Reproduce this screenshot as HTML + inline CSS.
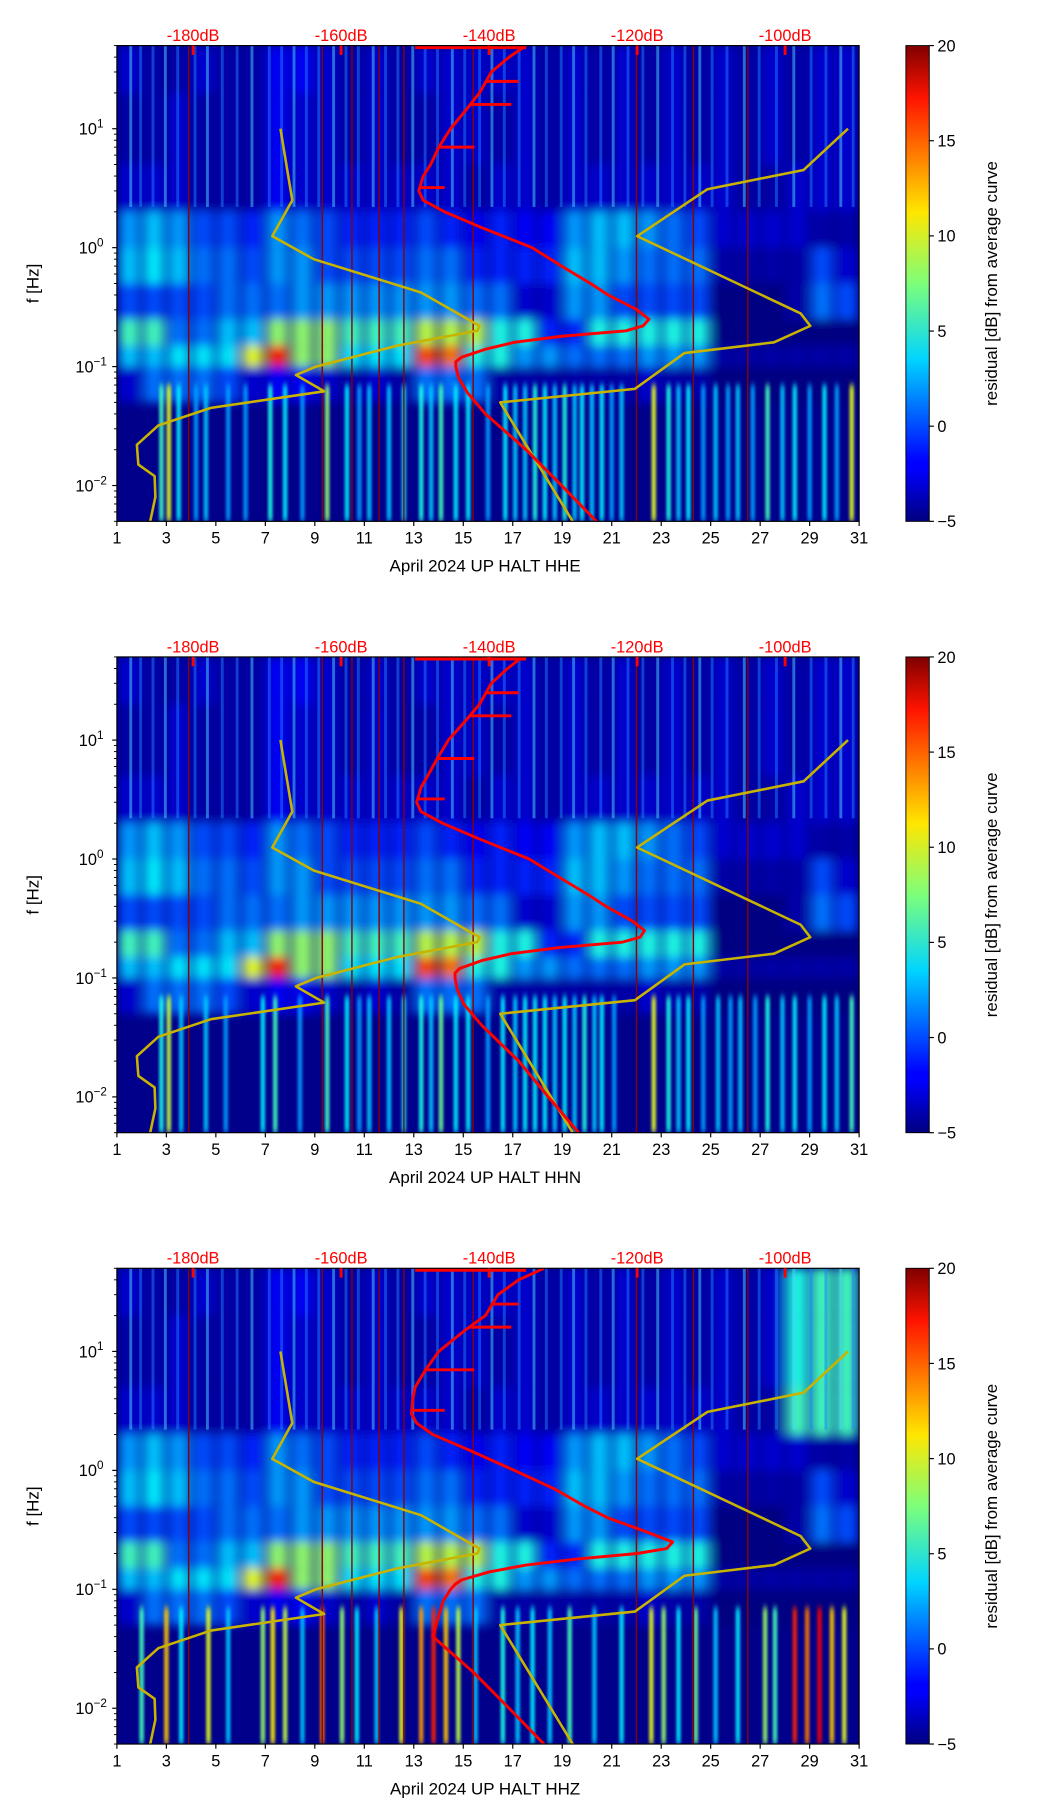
<!DOCTYPE html>
<html><head><meta charset="utf-8">
<style>
html,body{margin:0;padding:0;background:#fff;}
svg{display:block;font-family:"Liberation Sans","DejaVu Sans",sans-serif;}
</style></head>
<body>
<svg id="fig" width="1052" height="1806" viewBox="0 0 900 1545" preserveAspectRatio="none" xmlns="http://www.w3.org/2000/svg">
<defs>
<linearGradient id="jetg" x1="0" y1="1" x2="0" y2="0">
<stop offset="0" stop-color="#00007f"/><stop offset="0.11" stop-color="#0000ff"/>
<stop offset="0.125" stop-color="#0000ff"/><stop offset="0.34" stop-color="#00d4ff"/>
<stop offset="0.5" stop-color="#7dff7a"/><stop offset="0.65" stop-color="#ffe600"/>
<stop offset="0.89" stop-color="#ff1300"/><stop offset="1" stop-color="#7f0000"/>
</linearGradient>
<filter id="blur" x="-5%" y="-5%" width="110%" height="110%"><feGaussianBlur stdDeviation="5 4"/></filter>
<filter id="blur2" x="-5%" y="-5%" width="110%" height="110%"><feGaussianBlur stdDeviation="1.2 3"/></filter>
</defs>
</svg>
<script>
// ---------- data ----------
const panelNames = ["HHE","HHN","HHZ"];
const dayTicks = [1,3,5,7,9,11,13,15,17,19,21,23,25,27,29,31];
const dbTicks = [-180,-160,-140,-120,-100];
const cbTicks = [-5,0,5,10,15,20];
const bandEdges = [50,20,5,2,1,0.5,0.25,0.15,0.1,0.05,0.005];
// residual [dB] per day (1..30) for each band, top band first
const bandA = [-3,-4,-4,-3,-4,-4,-2,-2,-3,-4,-3,-4,-3,-3,-3,-3,-3,-4,-3,-4,-3,-4,-3,-4,-3,-4,-3,-4,-3,-3];
const bandB = [-4,-4,-3,-4,-4,-4,-2,-3,-3,-4,-3,-4,-4,-3,-3,-4,-3,-4,-3,-4,-3,-4,-3,-4,-3,-4,-3,-4,-3,-3];
const bandC = [-3,-3,-3,-4,-4,-4,-2,-3,-3,-3,-3,-3,-3,-3,-4,-3,-3,-4,-3,-3,-3,-3,-3,-3,-3,-4,-4,-3,-3,-3];
const bandD = [2,3,2,0,0,-1,2,1,0,-1,-1,-1,0,-1,-2,-1,-2,-2,2,3,3,2,1,0,-3,-3,-3,-3,-4,-4];
const bandE = [3,4,3,1,1,0,2,2,0,0,0,0,1,1,-1,-1,-1,-1,3,3,2,1,1,1,-4,-4,-4,-4,0,-3];
const bandF = [0,0,0,0,1,1,1,2,2,2,2,2,2,2,1,1,-3,-3,2,2,0,0,0,0,-5,-5,-5,-4,1,0];
const bandG = [6,6,1,1,3,3,8,8,8,6,6,6,9,9,9,5,5,-1,-1,5,5,5,5,5,-5,-5,-5,-5,-5,-5];
const bandH = [3,3,4,4,4,10,16,8,8,4,4,4,15,14,5,5,2,2,1,1,1,2,2,2,-4,-4,-4,-4,-4,-4];
const bandI = [-3,1,1,1,0,-3,-2,-2,-3,-4,-3,-4,1,1,1,-4,-4,-4,-4,-4,-4,-3,-4,-4,-5,-5,-5,-5,-5,-5];
const bands = [bandA,bandB,bandC,bandD,bandE,bandF,bandG,bandH,bandI];
// vertical streaks at low frequencies (day, residual) per panel
const lowStreaks1 = [[2.8,8],[3.1,12],[3.5,6],[4.2,4],[4.6,5],[5.5,4],[6.2,4],[7.2,7],[7.8,6],[8.5,4],[9.5,10],[10.3,6],[10.8,4],[11.2,5],[12.0,5],[12.6,6],[13.3,7],[13.7,5],[14.1,8],[14.7,6],[15.2,6],[16.0,4],[16.7,6],[17.1,5],[17.5,5],[17.9,7],[18.3,6],[18.7,5],[19.1,7],[19.5,5],[19.8,6],[20.2,5],[20.6,6],[21.0,4],[21.4,5],[22.7,12],[23.3,7],[23.7,5],[24.1,6],[24.7,4],[25.2,5],[25.7,4],[26.1,5],[26.7,4],[27.3,8],[27.9,5],[28.4,6],[29.0,4],[29.6,6],[30.1,4],[30.7,12]];
const lowStreaks2 = [[2.8,7],[3.1,11],[3.6,5],[4.6,5],[5.4,4],[6.9,6],[7.4,8],[8.4,4],[9.5,8],[10.3,6],[10.8,4],[11.2,5],[12.0,5],[12.6,6],[13.3,7],[13.7,5],[14.1,9],[14.7,6],[15.2,6],[16.0,4],[16.6,6],[17.1,5],[17.5,6],[17.9,6],[18.3,6],[18.7,5],[19.1,6],[19.5,5],[19.9,7],[20.3,5],[20.6,6],[21.1,4],[22.7,12],[23.3,7],[23.7,5],[24.1,6],[24.7,4],[25.3,5],[25.8,4],[26.2,5],[26.8,4],[27.3,7],[27.9,5],[28.4,6],[29.0,4],[29.6,6],[30.1,5],[30.7,8]];
const lowStreaks3 = [[2.0,8],[3.0,14],[3.6,6],[4.7,12],[5.5,5],[6.9,10],[7.3,13],[7.8,11],[8.5,5],[9.3,16],[10.1,10],[10.7,6],[11.5,5],[12.5,12],[13.3,15],[13.8,18],[14.3,14],[14.8,11],[15.5,5],[16.6,7],[17.2,5],[17.8,6],[18.5,5],[19.3,8],[20.3,5],[21.4,6],[22.6,12],[23.1,10],[23.7,6],[24.4,9],[25.2,5],[26.1,6],[27.2,10],[27.6,8],[28.4,18],[28.9,16],[29.4,19],[29.9,14],[30.4,12]];
const lowStreaks = [lowStreaks1,lowStreaks2,lowStreaks3];
// high-freq streaks (day)
const hiStreaks = [1.5,1.9,2.4,2.9,3.4,4.1,4.6,5.2,5.8,6.4,7.1,7.6,8.1,8.6,9.1,9.7,10.2,10.7,11.3,11.8,12.3,12.9,13.4,13.9,14.5,15.0,15.6,16.1,16.6,17.2,17.8,18.3,18.9,19.4,19.9,20.5,21.0,21.6,22.2,22.8,23.4,23.9,24.5,25.0,25.6,26.3,26.9,27.6,28.3,29.0,29.6,30.2,30.7];
// dark red vertical lines (day)
const gapDays = [3.9,9.3,10.5,11.6,12.6,15.4,22.0,24.3,26.5];
// mean PSD curve (red): frequency [Hz] and dB per panel
const redFreq = [50,40,30,20,15,10,7,5,4,3,2.5,2,1.5,1,0.7,0.5,0.4,0.3,0.25,0.22,0.2,0.18,0.16,0.14,0.12,0.11,0.1,0.08,0.06,0.04,0.02,0.01,0.005];
const redDb1 = [-135.0,-137.3,-139.7,-141.3,-142.9,-145.2,-146.8,-147.9,-148.9,-149.5,-148.9,-146.0,-141.3,-134.2,-130.2,-126.3,-123.9,-120.0,-118.4,-119.2,-121.5,-130.2,-136.6,-140.5,-143.7,-144.5,-144.5,-144.1,-142.9,-140.5,-135.0,-130.2,-125.5];
const redDb2 = [-135.5,-137.5,-139.7,-141.3,-143.0,-145.5,-147.0,-148.3,-149.2,-149.8,-149.2,-146.3,-141.6,-134.6,-130.5,-126.6,-124.2,-120.6,-119.0,-119.6,-122.0,-130.5,-137.0,-141.0,-144.0,-144.6,-144.6,-144.3,-143.4,-141.0,-136.0,-132.0,-127.9];
const redDb3 = [-132.6,-136.0,-138.8,-140.5,-143.3,-146.8,-148.6,-150.0,-150.3,-150.5,-149.8,-147.6,-142.9,-136.6,-131.2,-127.1,-124.0,-118.5,-115.2,-116.0,-120.0,-128.0,-135.0,-140.0,-143.7,-144.6,-145.2,-146.2,-146.8,-147.6,-142.1,-137.3,-132.6];
const redDbs = [redDb1,redDb2,redDb3];
// spikes on the red curve above 2 Hz: frequency, dB reached
const spikeFreq = [25,16,7,3.2];
const spikeDb = [-136,-137,-142,-146];
// low / high noise models (yellow)
const nlnmFreq = [10,2.5,1.25,0.8,0.42,0.22,0.2,0.15,0.1,0.085,0.062,0.045,0.032,0.022,0.015,0.012,0.008,0.005];
const nlnmDb = [-168.2,-166.6,-169.3,-163.7,-149.2,-141.3,-141.6,-152.4,-163.4,-166.1,-162.3,-177.6,-184.7,-187.6,-187.4,-185.2,-185.1,-185.8];
const nhnmFreq = [10,4.5,3.1,1.25,0.28,0.22,0.16,0.13,0.065,0.05,0.005];
const nhnmDb = [-91.5,-97.5,-110.5,-120.0,-97.9,-96.6,-101.5,-113.6,-120.3,-138.5,-128.7];

// ---------- layout ----------
const NS="http://www.w3.org/2000/svg";
const svg=document.getElementById('fig');
const X0=100,X1=735,H=407,tops=[39,562,1085];
const FMAX=50,FMIN=0.005,DB0=-190.3,DB1=-90;
const xDay=d=>X0+(d-1)/30*(X1-X0);
const xDb=v=>X0+(v-DB0)/(DB1-DB0)*(X1-X0);
const yF=(f,t)=>t+(Math.log10(FMAX)-Math.log10(f))/(Math.log10(FMAX)-Math.log10(FMIN))*H;
function jet(v){let t=Math.max(0,Math.min(1,(v+5)/25));
 const c=x=>Math.round(255*Math.max(0,Math.min(1,1.5-Math.abs(x))));
 return `rgb(${c(4*t-3)},${c(4*t-2)},${c(4*t-1)})`;}
function el(tag,attrs,parent){const e=document.createElementNS(NS,tag);for(const k in attrs)e.setAttribute(k,attrs[k]);(parent||svg).appendChild(e);return e;}
function txt(s,attrs,parent){const e=el('text',attrs,parent);e.textContent=s;return e;}

tops.forEach((T,p)=>{
 const g=el('g',{});
 
 
 const cid='clip'+p;
 const cp=el('clipPath',{id:cid},g);el('rect',{x:X0,y:T,width:X1-X0,height:H},cp);
 const plot=el('g',{'clip-path':`url(#${cid})`},g);
 
 
 el('rect',{x:X0,y:T,width:X1-X0,height:H,fill:'#00008a'},plot);
 const hm=el('g',{filter:'url(#blur)'},plot);
 
 
 bands.forEach((row,b)=>{
  const ya=yF(bandEdges[b],T),yb=yF(bandEdges[b+1],T);
  row.forEach((v,i)=>{
   let vv=v; if(p===2&&b<3&&i>=27) vv=v+9;
   const r=el('rect',{x:xDay(i+1)+2,y:ya,width:xDay(i+2)-xDay(i+1)-4,height:yb-ya,fill:jet(vv)},hm);
   
   
  });
 });
 hiStreaks.forEach((d,i)=>{
  const s=el('rect',{x:xDay(d),y:T,width:2.5,height:yF(2.2,T)-T,fill:i%3===0?'#4fd8ff':'#1e80ff',opacity:0.5},plot);
  
  
 });
 const ls=el('g',{filter:'url(#blur2)',opacity:0.85},plot);
 lowStreaks[p].forEach(([d,v])=>{
  const s=el('rect',{x:xDay(d)-2,y:yF(0.07,T),width:4,height:T+H-yF(0.07,T),fill:jet(v-2)},ls);
  
  
 });
 gapDays.forEach(d=>{
  const l=el('line',{x1:xDay(d),x2:xDay(d),y1:T,y2:T+H,stroke:'#8b0000','stroke-width':1.2},plot);
  
  
 });
 // curves
 const line=(fs,ds,col,w,name)=>{
  const pl=el('polyline',{points:fs.map((f,i)=>xDb(ds[i])+','+yF(f,T)).join(' '),fill:'none',stroke:col,'stroke-width':w,'stroke-linejoin':'round'},plot);
  
  
 };
 line(nlnmFreq,nlnmDb,'#c8b400',2.2,'low-noise-model-curve');
 line(nhnmFreq,nhnmDb,'#c8b400',2.2,'high-noise-model-curve');
 line(redFreq,redDbs[p],'#ff0000',2.5,'mean-psd-curve');
 spikeFreq.forEach((f,i)=>{
  const y=yF(f,T);
  let base=redDbs[p][0];
  for(let k=0;k<redFreq.length-1;k++){if(f<=redFreq[k]&&f>=redFreq[k+1]){const a=(Math.log10(redFreq[k])-Math.log10(f))/(Math.log10(redFreq[k])-Math.log10(redFreq[k+1]));base=redDbs[p][k]+a*(redDbs[p][k+1]-redDbs[p][k]);}}
  const s=el('line',{x1:xDb(base),x2:xDb(spikeDb[i]),y1:y,y2:y,stroke:'#ff0000','stroke-width':2.5},plot);
  
  
 });
 const topl=el('line',{x1:xDb-0||xDb(-150),x2:xDb(-135),y1:T+1.5,y2:T+1.5,stroke:'#ff0000','stroke-width':3},plot);
 
 
 // frame
 const fr=el('rect',{x:X0,y:T,width:X1-X0,height:H,fill:'none',stroke:'#000','stroke-width':1},g);
 
 
 // x ticks
 dayTicks.forEach(d=>{
  el('line',{x1:xDay(d),x2:xDay(d),y1:T+H,y2:T+H+4,stroke:'#000'},g);
  const t=txt(String(d),{x:xDay(d),y:T+H+19,'font-size':14,'text-anchor':'middle'},g);
  
  
 });
 const xl=txt('April 2024 UP HALT  '+panelNames[p],{x:415,y:T+H+43,'font-size':14.5,'text-anchor':'middle'},g);
 
 
 // y ticks
 [-2,-1,0,1].forEach(e=>{
  const y=yF(Math.pow(10,e),T);
  el('line',{x1:X0-4,x2:X0,y1:y,y2:y,stroke:'#000'},g);
  const t=txt('10',{x:X0-22,y:y+5,'font-size':14,'text-anchor':'middle'},g);
  const sp=el('tspan',{dy:-6,'font-size':10},t);sp.textContent=e<0?'\u2212'+(-e):String(e);
  
  
 });
 for(let e=-3;e<=1;e++)for(let m=2;m<=9;m++){const f=m*Math.pow(10,e);if(f<FMIN||f>FMAX)continue;
  const y=yF(f,T);el('line',{x1:X0-2.5,x2:X0,y1:y,y2:y,stroke:'#000','stroke-width':0.8},g);}
 const yl=txt('f [Hz]',{x:33,y:T+H/2,'font-size':14.5,'text-anchor':'middle',transform:`rotate(-90 33 ${T+H/2})`},g);
 
 
 // top dB labels
 dbTicks.forEach(v=>{
  const t=txt(v+'dB',{x:xDb(v),y:T-4,'font-size':14,'text-anchor':'middle',fill:'#ff0000'},g);
  
  
  el('line',{x1:xDb(v),x2:xDb(v),y1:T,y2:T+8,stroke:'#ff0000','stroke-width':2.5},g);
 });
 // colorbar
 const cb=el('rect',{x:775,y:T,width:20,height:H,fill:'url(#jetg)',stroke:'#000','stroke-width':0.8},g);
 
 
 cbTicks.forEach(v=>{
  const y=T+H-(v+5)/25*H;
  el('line',{x1:795,x2:799,y1:y,y2:y,stroke:'#000'},g);
  const t=txt(v<0?'\u2212'+(-v):String(v),{x:802,y:y+5,'font-size':14},g);
  
  
 });
 const cl=txt('residual [dB] from average curve',{x:853,y:T+H/2,'font-size':14.5,'text-anchor':'middle',transform:`rotate(-90 853 ${T+H/2})`},g);
 
 
});
</script>
</body></html>
